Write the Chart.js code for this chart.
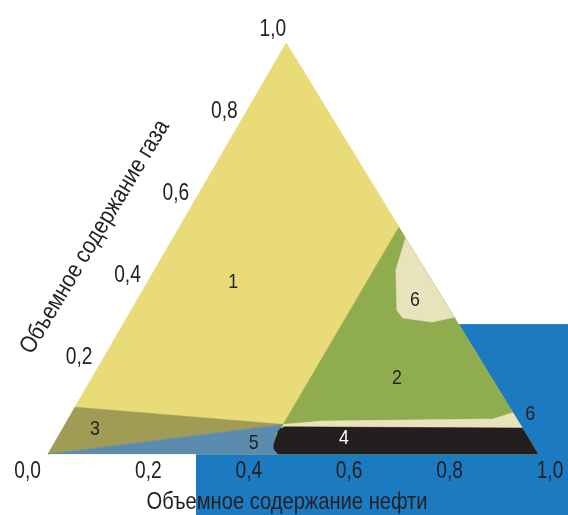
<!DOCTYPE html>
<html>
<head>
<meta charset="utf-8">
<script src="https://cdn.jsdelivr.net/npm/chart.js@4/dist/chart.umd.min.js"></script>
<style>
  html, body { margin: 0; padding: 0; background: #fff; }
  #wrap { width: 568px; height: 515px; position: relative; }
</style>
</head>
<body>
<div id="wrap"><canvas id="c" width="568" height="515"></canvas></div>
<script>
// x = доля по основанию, g = содержание газа (высота)
const triangle = [[0, 0], [1, 0], [0.486, 1]];
const zone1 = [[0.055, 0.114], [0.486, 1], [0.716, 0.552], [0.480, 0.072]];
const zone2 = [[0.480, 0.072], [0.716, 0.552], [0.949, 0.100], [0.947, 0.100], [0.908, 0.085], [0.561, 0.080]];
const zone3 = [[0, 0], [0.055, 0.114], [0.480, 0.072]];
const zone4 = [[0.482, 0.066], [0.968, 0.063], [1, 0], [0.469, 0], [0.461, 0.012], [0.461, 0.024], [0.469, 0.054], [0.474, 0.062]];
const zone5 = [[0, 0], [0.480, 0.072], [0.474, 0.062], [0.465, 0.050], [0.461, 0.017], [0.467, 0]];
const zone6a = [[0.730, 0.526], [0.710, 0.448], [0.712, 0.350], [0.724, 0.331], [0.784, 0.321], [0.829, 0.333]];
const zone6b = [[0.480, 0.072], [0.561, 0.080], [0.908, 0.085], [0.947, 0.100], [0.949, 0.100], [0.968, 0.063], [0.482, 0.066]];

const zoneNames = ['1', '2', '3', '4', '5', '6', '6'];
const zoneLabelPos = [[0.378, 0.418], [0.712, 0.185], [0.096, 0.061], [0.604, 0.039], [0.420, 0.027], [0.749, 0.375], [0.984, 0.097]];

const oilTicks = [0, 0.2, 0.4, 0.6, 0.8, 1.0];
const gasTicks = [0.2, 0.4, 0.6, 0.8, 1.0];
const oilTitle = 'Объемное содержание нефти';
const gasTitle = 'Объемное содержание газа';

const FONT = "'Liberation Sans', Arial, sans-serif";
const INK = '#231f20';

const fmt = v => v.toFixed(1).replace('.', ',');
const pts = arr => arr.map(p => ({ x: p[0], y: p[1] }));

function zone(data, color, order) {
  return {
    data: pts(data), showLine: true, fill: 'shape', tension: 0,
    backgroundColor: color, borderColor: color, borderWidth: 0.6,
    pointRadius: 0, order: order, clip: false
  };
}

// узкий шрифт: сжимаем по горизонтали
function narrowText(ctx, s, x, y, sx) {
  ctx.save();
  ctx.translate(x, y);
  ctx.scale(sx, 1);
  ctx.fillText(s, 0, 0);
  ctx.restore();
}

function fitText(ctx, s, x, y, w) {
  narrowText(ctx, s, x, y, w / ctx.measureText(s).width);
}

const backdrop = {
  id: 'backdrop',
  beforeDatasetsDraw(chart) {
    const { ctx, scales: { x, y } } = chart;
    const x0 = x.getPixelForValue(0.302), y0 = y.getPixelForValue(0.316);
    ctx.save();
    ctx.fillStyle = '#1c7bc0';
    ctx.fillRect(x0, y0, chart.width - x0, chart.height - y0);
    ctx.restore();
  }
};

const texts = {
  id: 'texts',
  afterDatasetsDraw(chart) {
    const { ctx, scales: { x, y } } = chart;
    ctx.save();
    ctx.fillStyle = INK;
    ctx.textBaseline = 'middle';

    // номера зон
    ctx.font = '21px ' + FONT;
    ctx.textAlign = 'center';
    zoneNames.forEach((n, i) => {
      ctx.fillStyle = n === '4' ? '#ffffff' : INK;
      narrowText(ctx, n, x.getPixelForValue(zoneLabelPos[i][0]), y.getPixelForValue(zoneLabelPos[i][1]), 0.85);
    });
    ctx.fillStyle = INK;

    // шкала нефти
    ctx.font = '24px ' + FONT;
    const by = y.getPixelForValue(0) + 17;
    oilTicks.forEach(v => {
      if (v === 0) {
        ctx.textAlign = 'right';
        narrowText(ctx, fmt(v), x.getPixelForValue(0) - 7, by, 0.8);
      } else {
        ctx.textAlign = 'center';
        narrowText(ctx, fmt(v), x.getPixelForValue(v) + 12 * v, by, 0.8);
      }
    });

    // шкала газа вдоль левой стороны
    ctx.textAlign = 'right';
    gasTicks.forEach(v => {
      const px = x.getPixelForValue(triangle[2][0] * v);
      const py = y.getPixelForValue(v);
      narrowText(ctx, fmt(v), px - 4 + 4 * v, py - 14, 0.8);
    });

    // подписи осей
    ctx.font = '24px ' + FONT;
    ctx.textAlign = 'center';
    fitText(ctx, oilTitle, 287, 502, 281);

    ctx.translate(95, 237);
    ctx.rotate(-59 * Math.PI / 180);
    fitText(ctx, gasTitle, 0, 0, 268);
    ctx.restore();
  }
};

new Chart(document.getElementById('c'), {
  type: 'scatter',
  data: {
    datasets: [
      zone(triangle, '#e9dc78', 9),
      zone(zone1, '#e9dc78', 8),
      zone(zone2, '#8fad4e', 7),
      zone(zone3, '#a09b55', 6),
      zone(zone5, '#5b8cad', 5),
      zone(zone6b, '#e8e3bc', 4),
      zone(zone6a, '#e8e3bc', 3),
      zone(zone4, '#231f20', 2)
    ]
  },
  options: {
    responsive: false,
    animation: false,
    layout: { padding: { left: 48, right: 30, top: 43, bottom: 61 } },
    scales: {
      x: { type: 'linear', min: 0, max: 1, display: false },
      y: { type: 'linear', min: 0, max: 1, display: false }
    },
    plugins: { legend: { display: false }, tooltip: { enabled: false } }
  },
  plugins: [backdrop, texts]
});
</script>
</body>
</html>
